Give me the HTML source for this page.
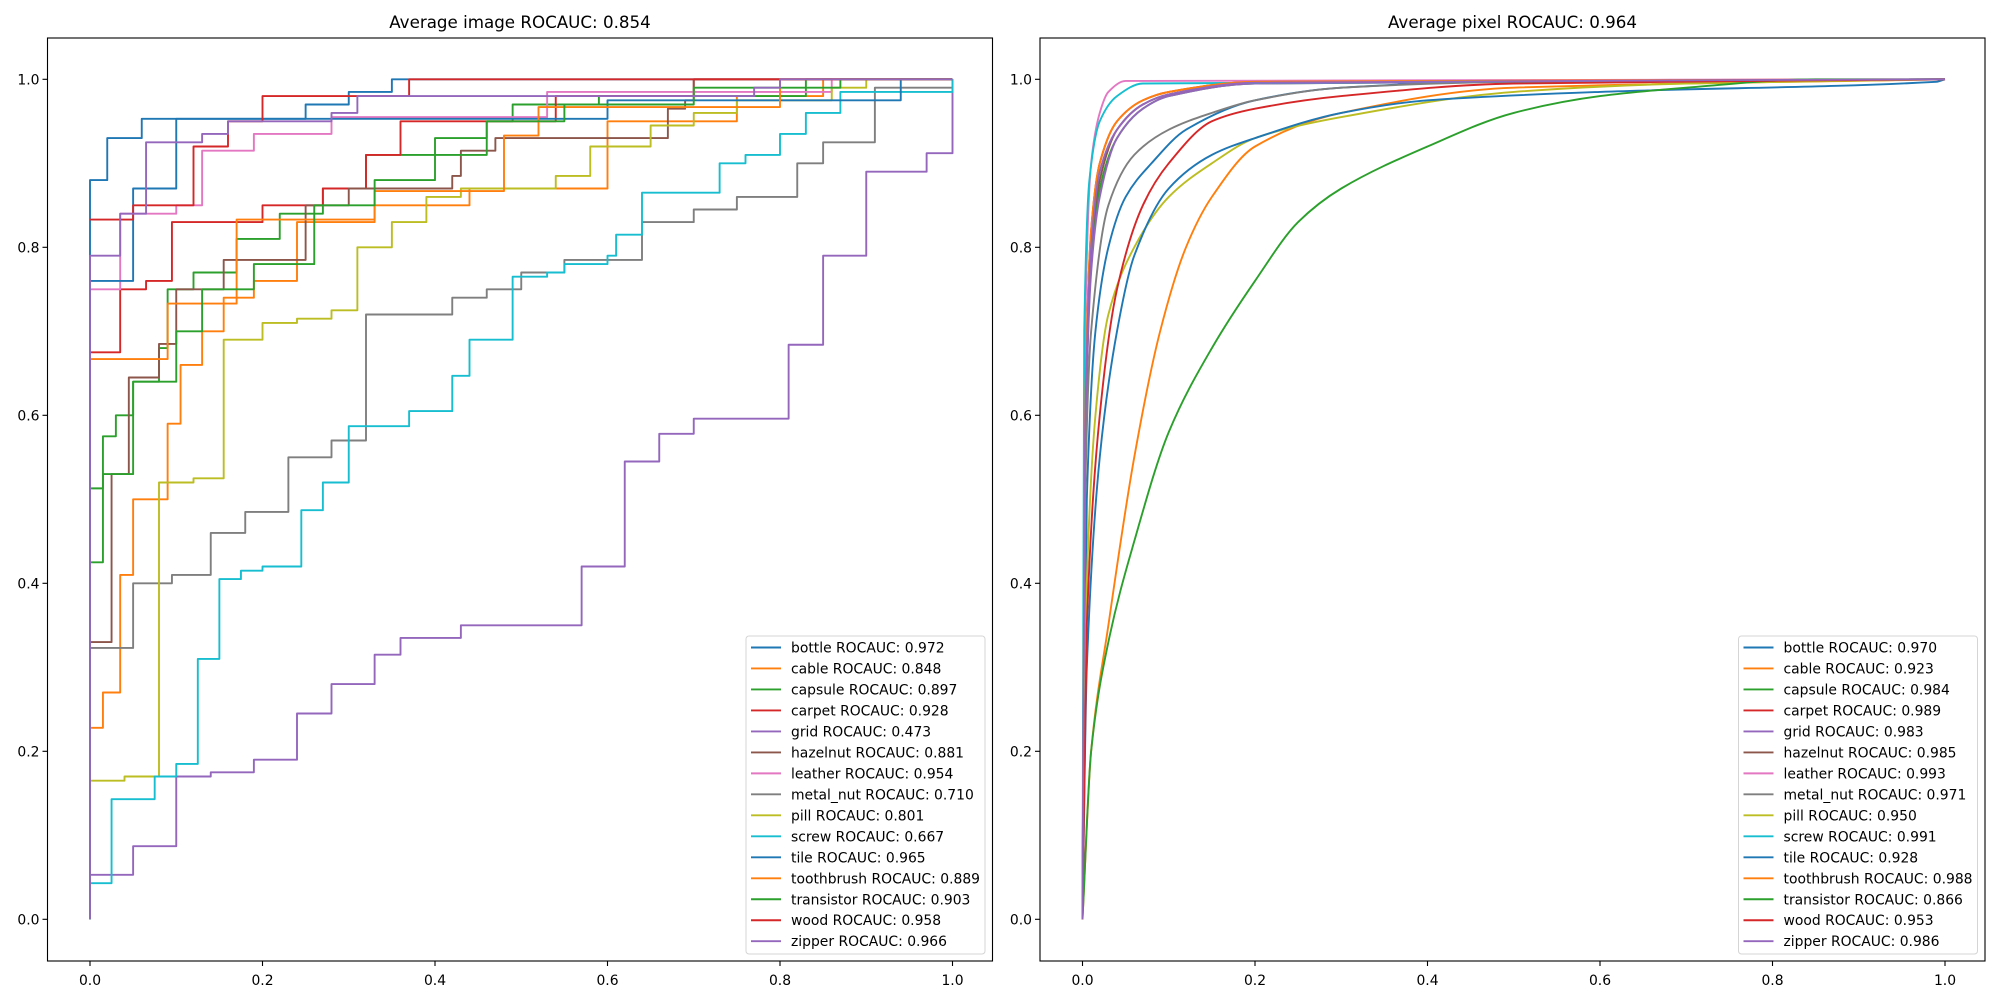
<!DOCTYPE html>
<html><head><meta charset="utf-8"><style>
html,body{margin:0;padding:0;background:#fff;}
svg{display:block;font-family:"DejaVu Sans","Liberation Sans",sans-serif;}
</style></head><body>
<svg id="fig" width="2000" height="1000" viewBox="0 0 2000 1000" xmlns="http://www.w3.org/2000/svg"></svg>
<script>
const colors=["#1f77b4","#ff7f0e","#2ca02c","#d62728","#9467bd","#8c564b","#e377c2","#7f7f7f","#bcbd22","#17becf","#1f77b4","#ff7f0e","#2ca02c","#d62728","#9467bd"];
const categories=["bottle","cable","capsule","carpet","grid","hazelnut","leather","metal_nut","pill","screw","tile","toothbrush","transistor","wood","zipper"];
const imageAUC=["0.972","0.848","0.897","0.928","0.473","0.881","0.954","0.710","0.801","0.667","0.965","0.889","0.903","0.958","0.966"];
const pixelAUC=["0.970","0.923","0.984","0.989","0.983","0.985","0.993","0.971","0.950","0.991","0.928","0.988","0.866","0.953","0.986"];
const xTicks=[0,0.2,0.4,0.6,0.8,1.0];
const yTicks=[0,0.2,0.4,0.6,0.8,1.0];
const tickLabels=["0.0","0.2","0.4","0.6","0.8","1.0"];
// image-level step ROC: fpr / tpr step points
const imgFpr=[
[0,0,0.02,0.06,0.25,0.3,0.35,1],
[0,0,0.015,0.035,0.05,0.09,0.105,0.13,0.155,0.19,0.24,0.33,0.44,0.6,0.75,0.85,1],
[0,0,0.015,0.03,0.05,0.08,0.09,0.12,0.17,0.22,0.27,0.32,0.4,0.46,0.49,0.59,0.83,1],
[0,0,0.035,0.065,0.095,0.2,0.27,0.32,0.36,0.54,0.7,1],
[0,0,0.05,0.1,0.14,0.19,0.24,0.28,0.33,0.36,0.43,0.57,0.62,0.66,0.7,0.81,0.85,0.9,0.97,1,1],
[0,0,0.025,0.045,0.08,0.1,0.155,0.25,0.3,0.42,0.43,0.47,0.67,0.69,0.7,1],
[0,0,0.035,0.1,0.13,0.19,0.28,0.53,0.86,1],
[0,0,0.05,0.095,0.14,0.18,0.23,0.28,0.32,0.42,0.46,0.5,0.55,0.64,0.7,0.75,0.82,0.85,0.91,1,1],
[0,0,0.04,0.08,0.12,0.155,0.2,0.24,0.28,0.31,0.35,0.39,0.43,0.54,0.58,0.65,0.7,0.75,0.86,0.9,1],
[0,0,0.025,0.075,0.1,0.125,0.15,0.175,0.2,0.245,0.27,0.3,0.37,0.42,0.44,0.49,0.53,0.55,0.6,0.61,0.64,0.73,0.76,0.8,0.83,0.87,1,1],
[0,0,0.05,0.1,0.6,0.94,1],
[0,0,0.09,0.17,0.33,0.48,0.52,0.8,1],
[0,0,0.015,0.05,0.1,0.13,0.19,0.26,0.33,0.4,0.46,0.55,0.7,0.87,1],
[0,0,0.05,0.12,0.16,0.2,0.37,0.7,1],
[0,0,0.035,0.065,0.13,0.16,0.28,0.31,0.77,0.8,1]];
const imgTpr=[
[0,0.88,0.93,0.953,0.97,0.985,1,1],
[0,0.228,0.27,0.41,0.5,0.59,0.66,0.7,0.74,0.76,0.83,0.85,0.87,0.95,0.98,1,1],
[0,0.425,0.575,0.6,0.64,0.68,0.75,0.77,0.81,0.84,0.87,0.91,0.93,0.95,0.97,0.98,1,1],
[0,0.675,0.75,0.76,0.83,0.85,0.87,0.91,0.95,0.98,1,1],
[0,0.053,0.087,0.17,0.175,0.19,0.245,0.28,0.315,0.335,0.35,0.42,0.545,0.578,0.596,0.684,0.79,0.89,0.912,0.93,1],
[0,0.33,0.53,0.645,0.685,0.75,0.785,0.85,0.87,0.885,0.915,0.93,0.965,0.975,1,1],
[0,0.75,0.84,0.85,0.915,0.935,0.955,0.985,1,1],
[0,0.323,0.4,0.41,0.46,0.485,0.55,0.57,0.72,0.74,0.75,0.77,0.785,0.83,0.845,0.86,0.9,0.925,0.99,0.99,1],
[0,0.165,0.17,0.52,0.525,0.69,0.71,0.715,0.725,0.8,0.83,0.86,0.87,0.885,0.92,0.945,0.96,0.975,0.99,1,1],
[0,0.043,0.143,0.17,0.185,0.31,0.405,0.415,0.42,0.487,0.52,0.587,0.605,0.647,0.69,0.765,0.77,0.78,0.79,0.815,0.865,0.9,0.91,0.935,0.96,0.985,0.99,1],
[0,0.76,0.87,0.953,0.975,1,1],
[0.667,0.667,0.733,0.833,0.867,0.933,0.967,1,1],
[0,0.513,0.53,0.64,0.7,0.75,0.78,0.85,0.88,0.91,0.95,0.97,0.99,1,1],
[0.833,0.833,0.85,0.92,0.95,0.98,1,1,1],
[0,0.79,0.84,0.925,0.935,0.95,0.96,0.98,0.99,1,1]];
// pixel-level ROC
const pixFpr=[
[0,0.005,0.015,0.03,0.05,0.08,0.12,0.2,0.3,0.5,1],
[0,0.01,0.03,0.06,0.09,0.12,0.15,0.2,0.3,0.5,1],
[0,0.003,0.01,0.02,0.04,0.07,0.1,0.2,1],
[0,0.003,0.01,0.02,0.04,0.07,0.1,0.2,1],
[0,0.003,0.01,0.02,0.04,0.07,0.1,0.2,1],
[0,0.003,0.01,0.02,0.04,0.07,0.1,0.2,1],
[0,0.003,0.01,0.02,0.03,0.05,1],
[0,0.003,0.01,0.03,0.06,0.1,0.15,0.2,0.3,0.5,1],
[0,0.005,0.015,0.03,0.06,0.1,0.15,0.2,0.3,0.5,0.7,1],
[0,0.002,0.008,0.02,0.04,0.07,1],
[0,0.005,0.02,0.04,0.06,0.1,0.15,0.2,0.3,0.4,0.6,0.99,1],
[0,0.003,0.01,0.02,0.04,0.07,0.1,0.2,1],
[0,0.01,0.03,0.06,0.1,0.15,0.2,0.25,0.3,0.4,0.5,0.6,0.7,0.85,1],
[0,0.005,0.02,0.04,0.07,0.1,0.15,0.2,0.3,0.5,1],
[0,0.003,0.01,0.02,0.04,0.07,0.1,0.2,1]];
const pixTpr=[
[0,0.5,0.7,0.8,0.86,0.9,0.94,0.975,0.99,0.998,1],
[0,0.2,0.35,0.55,0.7,0.8,0.86,0.92,0.96,0.99,1],
[0,0.55,0.78,0.87,0.93,0.965,0.98,0.995,1],
[0,0.6,0.82,0.9,0.95,0.975,0.985,0.997,1],
[0,0.55,0.77,0.86,0.93,0.965,0.98,0.995,1],
[0,0.58,0.8,0.88,0.94,0.97,0.982,0.996,1],
[0,0.7,0.9,0.96,0.985,0.998,1],
[0,0.5,0.7,0.85,0.91,0.94,0.96,0.975,0.99,0.997,1],
[0,0.4,0.6,0.72,0.8,0.86,0.9,0.93,0.955,0.985,0.995,1],
[0,0.7,0.88,0.95,0.98,0.995,1],
[0,0.3,0.55,0.7,0.79,0.87,0.91,0.93,0.96,0.975,0.985,0.997,1],
[0,0.6,0.82,0.9,0.95,0.975,0.985,0.997,1],
[0,0.2,0.33,0.45,0.58,0.68,0.76,0.83,0.87,0.92,0.96,0.98,0.99,1,1],
[0,0.35,0.6,0.75,0.85,0.9,0.95,0.965,0.98,0.995,1],
[0,0.58,0.8,0.89,0.94,0.97,0.982,0.996,1]];

const NS="http://www.w3.org/2000/svg";
const svg=document.getElementById('fig');
function mk(tag,attrs,parent){const e=document.createElementNS(NS,tag);for(const k in attrs)e.setAttribute(k,attrs[k]);(parent||svg).appendChild(e);return e;}
// monotone cubic (Fritsch-Carlson) path in pixel space
function monoPath(X,Y){
  const n=X.length;const d=[],m=[];
  for(let i=0;i<n-1;i++){const dx=X[i+1]-X[i];d.push(dx===0?0:(Y[i+1]-Y[i])/dx);}
  m[0]=d[0];m[n-1]=d[n-2];
  for(let i=1;i<n-1;i++){m[i]=(d[i-1]*d[i]<=0)?0:2/(1/d[i-1]+1/d[i]);}
  let p='M'+X[0]+' '+Y[0];
  for(let i=0;i<n-1;i++){const h=(X[i+1]-X[i])/3;
    p+=' C'+(X[i]+h)+' '+(Y[i]+m[i]*h)+' '+(X[i+1]-h)+' '+(Y[i+1]-m[i+1]*h)+' '+X[i+1]+' '+Y[i+1];}
  return p;
}
const Y0=919.3,YS=840;
function panel(key,boxL,x0,title,fprs,tprs,aucs,step){
  const g=mk('g',{});
  
  
  const xs=v=>x0+v*862.5, ys=v=>Y0-v*YS;
  const t=mk('text',{x:boxL+472.5,y:28,'text-anchor':'middle','font-size':'16.7',fill:'#000'},g);
  t.textContent=title;
  
  
  for(let s=0;s<categories.length;s++){
    const f=fprs[s],tp=tprs[s];let d;
    if(step){d='M'+xs(f[0])+' '+ys(tp[0]);
      for(let i=1;i<f.length;i++){d+=' L'+xs(f[i])+' '+ys(tp[i-1])+' L'+xs(f[i])+' '+ys(tp[i]);}
    } else {d=monoPath(f.map(xs),tp.map(ys));}
    const p=mk('path',{d:d,fill:'none',stroke:colors[s],'stroke-width':'1.9','stroke-linejoin':'round'},g);
    
    
  }
  const box=mk('rect',{x:boxL,y:38,width:945,height:923,fill:'none',stroke:'#000','stroke-width':'1.1'},g);
  
  
  for(let i=0;i<xTicks.length;i++){
    const x=xs(xTicks[i]);
    mk('line',{x1:x,x2:x,y1:961,y2:966,stroke:'#000','stroke-width':'1.1'},g);
    const tl=mk('text',{x:x,y:985,'text-anchor':'middle','font-size':'13.9'},g);
    tl.textContent=tickLabels[i];
    
    
    const y=ys(yTicks[i]);
    mk('line',{x1:boxL-5,x2:boxL,y1:y,y2:y,stroke:'#000','stroke-width':'1.1'},g);
    const yl=mk('text',{x:boxL-8,y:y+5,'text-anchor':'end','font-size':'13.9'},g);
    yl.textContent=tickLabels[i];
    
    
  }
  const lx=boxL+945-246.5;
  const lg=mk('g',{},g);
  
  
  mk('rect',{x:lx,y:636,width:239,height:318,rx:3,fill:'#fff','fill-opacity':'0.8',stroke:'#d5d5d5','stroke-width':'1'},lg);
  for(let s=0;s<categories.length;s++){
    const y=647.5+s*20.98;
    const e=mk('g',{},lg);
    
    
    mk('line',{x1:lx+5,x2:lx+35,y1:y,y2:y,stroke:colors[s],'stroke-width':'1.9'},e);
    const tx=mk('text',{x:lx+45,y:y+5,'font-size':'13.9'},e);
    tx.textContent=categories[s]+' ROCAUC: '+aucs[s];
  }
}
panel('image',47.5,90,'Average image ROCAUC: 0.854',imgFpr,imgTpr,imageAUC,true);
panel('pixel',1040,1082.5,'Average pixel ROCAUC: 0.964',pixFpr,pixTpr,pixelAUC,false);
</script>
</body></html>
